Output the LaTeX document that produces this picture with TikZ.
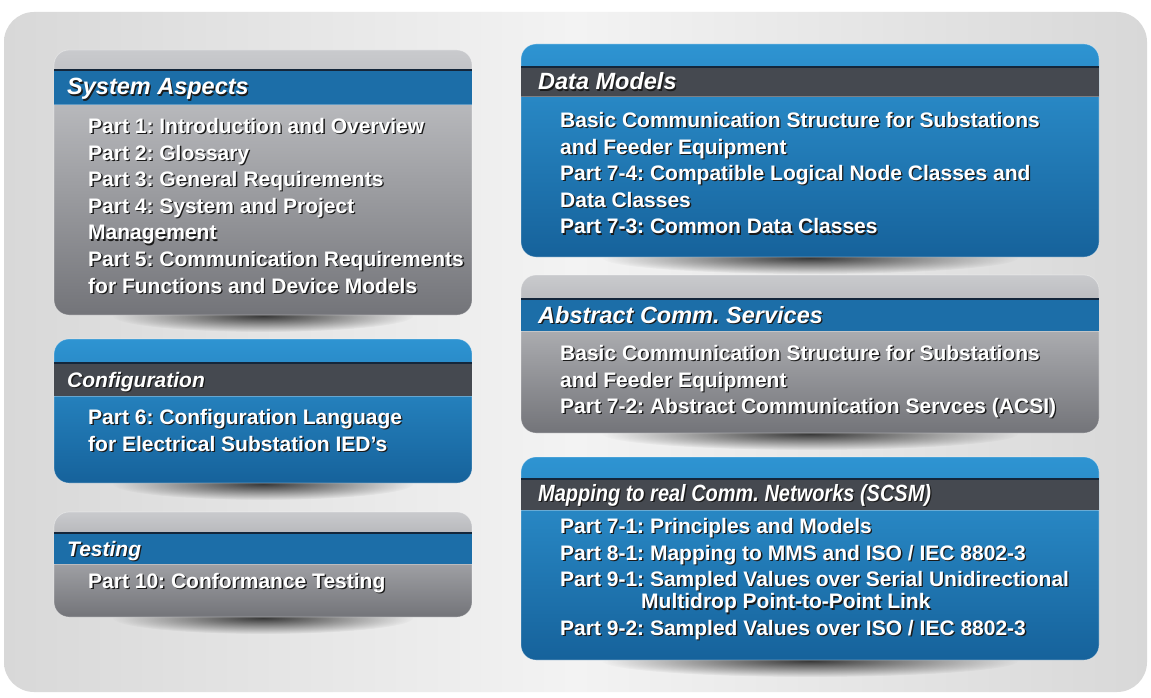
\documentclass[tikz,border=0pt]{standalone}
\usepackage{fontspec}
\setmainfont{Liberation Sans}
\usetikzlibrary{calc,positioning,fadings}

\definecolor{bgside}{HTML}{D8D8D8}
\definecolor{bgmid}{HTML}{F3F3F3}
\definecolor{blueTop}{HTML}{2E94D2}
\definecolor{blueBot}{HTML}{16629B}
\definecolor{grayTop}{HTML}{C9CACD}
\definecolor{grayBot}{HTML}{737479}
\definecolor{headDark}{HTML}{454950}
\definecolor{headBlue}{HTML}{1C6EA8}
\definecolor{headRule}{HTML}{14263A}
\definecolor{txtShadow}{HTML}{1A1A1A}

\tikzfading[name=softspot, inner color=transparent!10, outer color=transparent!100]

% card: drop shadow, shaded body and header band
% #1 style, #2 left, #3 top, #4 right, #5 bottom, #6/#7 header top/bottom, #8 header colour
\newcommand\card[8]{%
  \fill[black!85, path fading=softspot] ({(#2+#4)/2},{#5+1}) ellipse ({(#4-#2)*0.36} and 16);
  \path[#1] (#2,#3) rectangle (#4,#5);
  \fill[#8] (#2,#6) rectangle (#4,#7);
  \draw[headrule] (#2,#6) -- (#4,#6);
  \draw[headlight] (#2,#7) -- (#4,#7);
}

% white text with a dark drop shadow
\newcommand\shtext[4]{%
  \node[#2, text=txtShadow] (#1-sh) at ($#3+(1.3,1.3)$) {#4};
  \node[#2] (#1) at #3 {#4};
}

\begin{document}
\frenchspacing
\begin{tikzpicture}[
    x=1pt, y=-1pt,
    cardbox/.style={rounded corners=15pt, draw=white, draw opacity=0.35, line width=0.8pt},
    bluecard/.style={cardbox, top color=blueTop, bottom color=blueBot},
    graycard/.style={cardbox, top color=grayTop, bottom color=grayBot},
    headrule/.style={headRule, line width=2pt},
    headlight/.style={white, opacity=0.3, line width=1pt},
    headtitle/.style={anchor=base west, inner sep=0, text=white, font=\bfseries\itshape\fontsize{23.5}{28}\selectfont},
    smalltitle/.style={headtitle, font=\bfseries\itshape\fontsize{21}{25}\selectfont},
    bodytext/.style={anchor=north west, inner sep=0, align=left, text=white, font=\bfseries\fontsize{21}{26.6}\selectfont}
]
    \useasboundingbox (0,0) rectangle (1151,698);
    \fill[white] (0,0) rectangle (1151,698);
    \path[rounded corners=30pt, left color=bgside, right color=bgside, middle color=bgmid] (4,12) rectangle (1147,692);

    % left column
    \card{graycard}{54}{50}{472}{315}{70}{105}{headBlue}
    \card{bluecard}{54}{339}{472}{483}{363}{396}{headDark}
    \card{graycard}{54}{512}{472}{617}{533}{564}{headBlue}

    % right column
    \card{bluecard}{521}{44}{1099}{257}{67}{97}{headDark}
    \card{graycard}{521}{275}{1099}{433}{299}{331}{headBlue}
    \card{bluecard}{521}{457}{1099}{660}{479}{510}{headDark}

    \shtext{sys-title}{headtitle}{(67,95)}{System Aspects}
    \shtext{sys}{bodytext}{(88,118)}{Part 1: Introduction and Overview\\
        Part 2: Glossary\\
        Part 3: General Requirements\\
        Part 4: System and Project\\
        Management\\
        Part 5: Communication Requirements\\
        for Functions and Device Models}

    \shtext{cfg-title}{smalltitle}{(67,387)}{Configuration}
    \shtext{cfg}{bodytext}{(88,409)}{Part 6: Configuration Language\\
        for Electrical Substation IED’s}

    \shtext{tst-title}{smalltitle}{(67,556.5)}{Testing}
    \shtext{tst}{bodytext}{(88,573)}{Part 10: Conformance Testing}

    \shtext{dm-title}{headtitle}{(538,90)}{Data Models}
    \shtext{dm}{bodytext}{(560,112)}{Basic Communication Structure for Substations\\
        and Feeder Equipment\\
        Part 7-4: Compatible Logical Node Classes and\\
        Data Classes\\
        Part 7-3: Common Data Classes}

    \shtext{acs-title}{headtitle}{(538,323)}{Abstract Comm. Services}
    \shtext{acs}{bodytext}{(560,345)}{Basic Communication Structure for Substations\\
        and Feeder Equipment\\
        Part 7-2: Abstract Communication Servces (ACSI)}

    \shtext{map-title}{headtitle, xscale=0.85}{(538,501)}{Mapping to real Comm. Networks (SCSM)}
    \shtext{map}{bodytext}{(560,518)}{Part 7-1: Principles and Models\\
        Part 8-1: Mapping to MMS and ISO / IEC 8802-3\\
        Part 9-1: Sampled Values over Serial Unidirectional\\[-4.5pt]
        \hspace*{81pt}Multidrop Point-to-Point Link\\
        Part 9-2: Sampled Values over ISO / IEC 8802-3}
\end{tikzpicture}
\end{document}
